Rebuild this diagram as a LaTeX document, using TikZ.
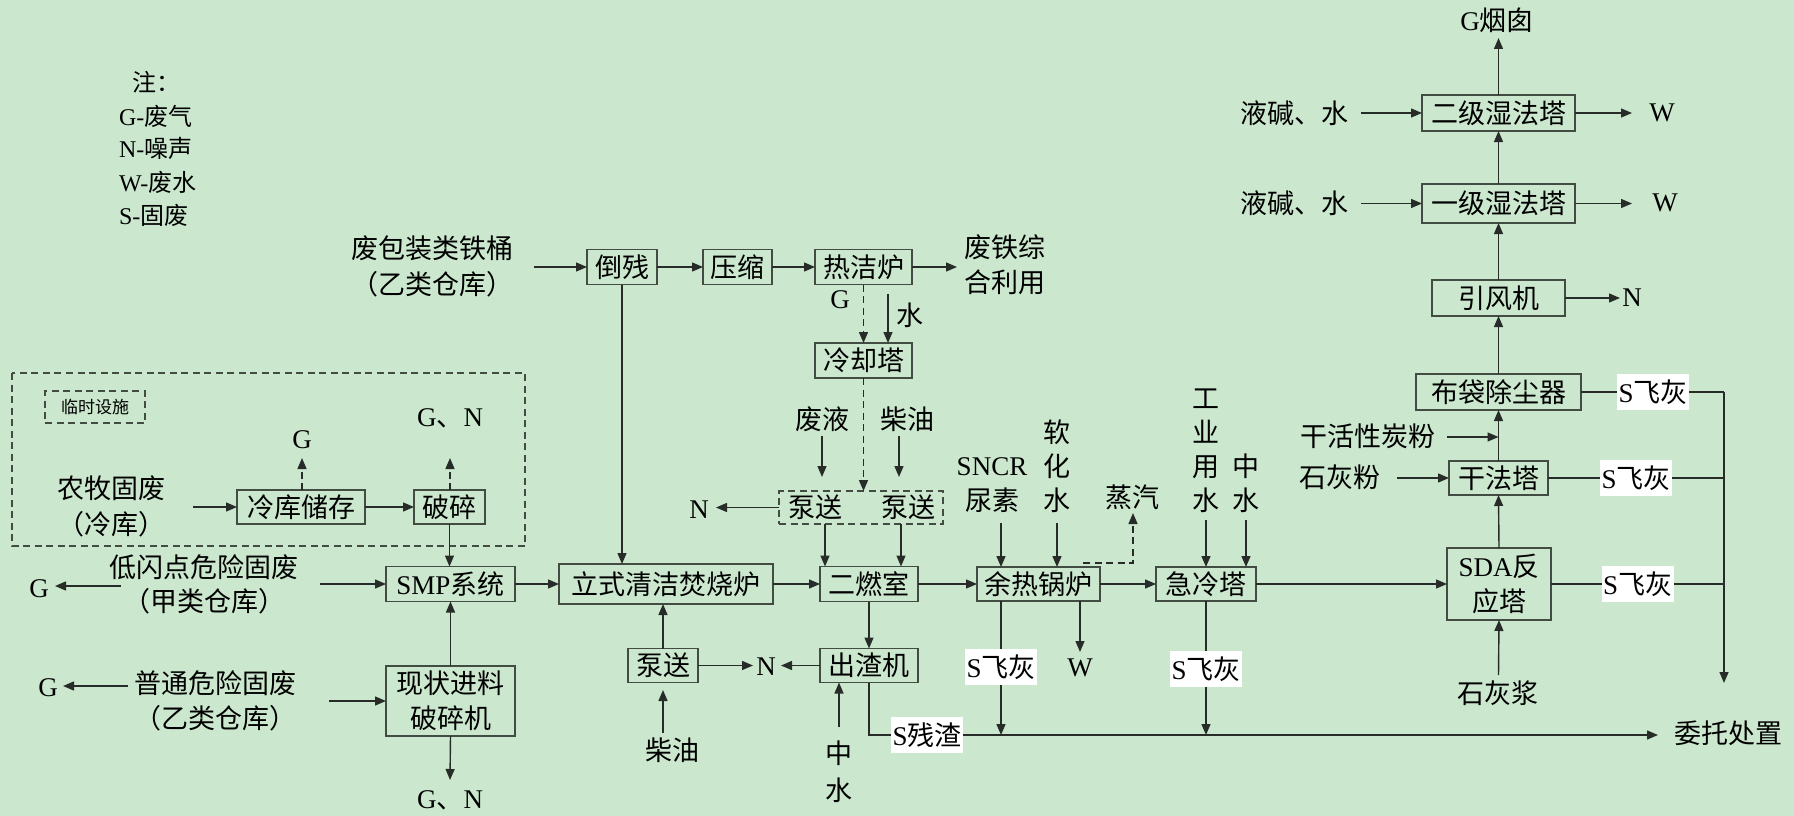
\documentclass[tikz,border=0pt]{standalone}
\usepackage{fontspec}
\setmainfont{Noto Sans CJK SC}
\newfontfamily\tnr{Liberation Serif}
\usetikzlibrary{arrows.meta}
\newcommand\La[1]{{\tnr #1}}
\definecolor{bgc}{RGB}{203,232,206}
\definecolor{bxc}{RGB}{66,76,66}
\definecolor{lnc}{RGB}{40,44,40}
\begin{document}
\begin{tikzpicture}[x=1pt,y=-1pt,
  every node/.style={inner sep=0pt, outer sep=0pt, font=\fontsize{27}{36}\selectfont},
  box/.style={draw=bxc, line width=1.4pt, minimum height=35pt},
  wl/.style={fill=white, minimum width=72pt, minimum height=36pt},
  vt/.style={align=center, font=\fontsize{27}{34}\selectfont},
  arr/.style={draw=lnc, line width=1.4pt, -{Triangle[length=11pt,width=9pt]}},
  plain/.style={draw=lnc, line width=1.4pt},
  dsh/.style={dash pattern=on 7pt off 4.5pt},
  leg/.style={anchor=west, font=\fontsize{24}{28}\selectfont},
]
\fill[bgc] (0,0) rectangle (1794,816);
\useasboundingbox (0,0) rectangle (1794,816);

% legend
\node[leg] (l0) at (132,82) {注：};
\node[leg] (l1) at (119,116) {\La{G-}废气};
\node[leg] (l2) at (119,148) {\La{N-}噪声};
\node[leg] (l3) at (119,182) {\La{W-}废水};
\node[leg] (l4) at (119,215) {\La{S-}固废};

% temporary facility frame
\draw[draw=bxc, line width=1.3pt, dsh] (12,373) rectangle (525,546);
\node[draw=bxc, line width=1.2pt, dsh, minimum width=100pt, minimum height=32pt, font=\fontsize{17}{20}\selectfont] (lsss) at (95,407) {临时设施};

% boxes
\node[box, minimum width=70pt] (dao) at (622,267) {倒残};
\node[box, minimum width=69pt] (ya) at (737.5,267) {压缩};
\node[box, minimum width=97pt] (rj) at (863.5,267) {热洁炉};
\node[box, minimum width=97pt] (lq) at (863.5,360.5) {冷却塔};
\node[draw=bxc, line width=1.3pt, dsh, minimum width=164pt, minimum height=33pt] (pump) at (861,507.5) {};
\node (p1) at (815,507) {泵送};
\node (p2) at (908,507) {泵送};
\node[box, minimum width=214pt, minimum height=40pt] (ls) at (666,584) {立式清洁焚烧炉};
\node[box, minimum width=98pt] (ec) at (869,584) {二燃室};
\node[box, minimum width=123pt, minimum height=34pt] (yr) at (1038.5,584) {余热锅炉};
\node[box, minimum width=100pt, minimum height=34pt] (jl) at (1206,584) {急冷塔};
\node[box, minimum width=104pt, minimum height=72pt, align=center, font=\fontsize{27}{35}\selectfont] (sda) at (1499,584) {\La{SDA}反\\应塔};
\node[box, minimum width=99pt, minimum height=34pt] (gf) at (1498.5,478) {干法塔};
\node[box, minimum width=165pt, minimum height=36pt] (bd) at (1498.5,392) {布袋除尘器};
\node[box, minimum width=133pt, minimum height=36pt] (yf) at (1498.5,298) {引风机};
\node[box, minimum width=153pt, minimum height=39pt] (s1) at (1498.5,203.5) {一级湿法塔};
\node[box, minimum width=153pt, minimum height=36pt] (s2) at (1498.5,113) {二级湿法塔};
\node[box, minimum width=129pt] (smp) at (450.5,584) {\La{SMP}系统};
\node[box, minimum width=129pt, minimum height=70pt, align=center, font=\fontsize{27}{35}\selectfont] (xz) at (450.5,701) {现状进料\\破碎机};
\node[box, minimum width=128pt, minimum height=34pt] (lk) at (301,507) {冷库储存};
\node[box, minimum width=71pt, minimum height=34pt] (ps) at (449.5,507) {破碎};
\node[box, minimum width=70pt, minimum height=34pt] (pb) at (663,665.5) {泵送};
\node[box, minimum width=98pt, minimum height=34pt] (cz) at (869,665.5) {出渣机};

% texts
\node[align=center] (fb) at (432,266) {废包装类铁桶\\（乙类仓库）};
\node[align=center] (nm) at (111,506) {农牧固废\\（冷库）};
\node[align=center, font=\fontsize{27}{34}\selectfont] (dsd) at (204,584) {低闪点危险固废\\（甲类仓库）};
\node[align=center, font=\fontsize{27}{35}\selectfont] (pt) at (215,700.5) {普通危险固废\\（乙类仓库）};
\node[align=left, font=\fontsize{27}{35}\selectfont] (ft) at (1005,264.5) {废铁综\\合利用};
\node (fy) at (822,419) {废液};
\node (cy1) at (907,419) {柴油};
\node[align=center, font=\fontsize{27}{35}\selectfont] (sncr) at (992,485.5) {\La{SNCR}\\尿素};
\node[vt] (rhs) at (1057,466) {软\\化\\水};
\node (zq) at (1132,497) {蒸汽};
\node[vt] (gysw) at (1206,451) {工\\业\\用\\水};
\node[vt] (zs1) at (1246,483.5) {中\\水};
\node[vt, font=\fontsize{27}{37}\selectfont] (zs2) at (839,771.5) {中\\水};
\node (cy2) at (672,750) {柴油};
\node (shj) at (1498,693) {石灰浆};
\node (shf) at (1340,477) {石灰粉};
\node (ght) at (1368,436) {干活性炭粉};
\node (yj2) at (1294,113) {液碱、水};
\node (yj1) at (1294,203) {液碱、水};
\node (w2) at (1662,113) {\La{W}};
\node (w1) at (1665,203) {\La{W}};
\node (n3) at (1632,298) {\La{N}};
\node (n1) at (699,510) {\La{N}};
\node (n2) at (766,667) {\La{N}};
\node (w3) at (1080,668) {\La{W}};
\node (g4) at (840,300) {\La{G}};
\node (shui) at (910,315) {水};
\node (g1) at (302,440) {\La{G}};
\node (gn1) at (450,418) {\La{G}、\La{N}};
\node (gn2) at (450,800) {\La{G}、\La{N}};
\node (g2) at (39,589) {\La{G}};
\node (g3) at (48,688) {\La{G}};
\node (gyc) at (1497,20) {\La{G}烟囱};
\node (wt) at (1728,733) {委托处置};
\node[wl] (sf1) at (1001,667) {\La{S}飞灰};
\node[wl] (sf2) at (1206,669) {\La{S}飞灰};
\node[wl] (sf3) at (1653,392) {\La{S}飞灰};
\node[wl] (sf4) at (1636,478) {\La{S}飞灰};
\node[wl] (sf5) at (1637.5,584) {\La{S}飞灰};
\node[wl] (scz) at (927,735) {\La{S}残渣};

% coordinates for free ends
\coordinate (k1) at (193,507);
\coordinate (k2) at (302,458);
\coordinate (k3) at (450,458);
\coordinate (k4) at (320,584);
\coordinate (k5) at (121,586);
\coordinate (k6) at (55,586);
\coordinate (k7) at (128,686);
\coordinate (k8) at (63,686);
\coordinate (k9) at (329,701);
\coordinate (k10) at (450,780);
\coordinate (k11) at (534,267);
\coordinate (k12) at (957,267);
\coordinate (k13) at (888,294);
\coordinate (k14) at (822,436);
\coordinate (k15) at (822,477);
\coordinate (k16) at (899,436);
\coordinate (k17) at (899,477);
\coordinate (k18) at (825,523);
\coordinate (k19) at (901,523);
\coordinate (k20) at (716,507.5);
\coordinate (k21) at (1498.5,38);
\coordinate (k22) at (1361,113);
\coordinate (k23) at (1361,203.5);
\coordinate (k24) at (1632,113);
\coordinate (k25) at (1632,203.5);
\coordinate (k26) at (1620,298);
\coordinate (k27) at (1447,437);
\coordinate (k28) at (1397,478);
\coordinate (k29) at (1498.5,675);
\coordinate (k30) at (1724,392);
\coordinate (k31) at (1724,683);
\coordinate (k32) at (781,665.5);
\coordinate (k33) at (753,665.5);
\coordinate (k34) at (663,733);
\coordinate (k35) at (663,690);
\coordinate (k36) at (839,727);
\coordinate (k37) at (1658,735);
\coordinate (k38) at (1080,652);
\coordinate (k39) at (1001,523);
\coordinate (k40) at (1057,523);
\coordinate (k41) at (1083,563);
\coordinate (k42) at (1133,513);
\coordinate (k43) at (1206,520);
\coordinate (k44) at (1246,520);

% left part
\draw[arr] (k1) -- (lk.west);
\draw[arr] (lk) -- (ps);
\draw[arr,dsh] (lk.north -| k2) -- (k2);
\draw[arr,dsh] (ps.north -| k3) -- (k3);
\draw[arr] (ps.south) -- (ps.south |- smp.north);
\draw[arr] (k4) -- (smp.west);
\draw[arr] (k5) -- (k6);
\draw[arr] (k7) -- (k8);
\draw[arr] (k9) -- (xz.west);
\draw[arr] (xz.north) -- (smp.south);
\draw[arr] (xz.south) -- (k10);

% upper branch
\draw[arr] (k11) -- (dao.west);
\draw[arr] (dao) -- (ya);
\draw[arr] (ya) -- (rj);
\draw[arr] (rj) -- (k12);
\draw[arr] (dao.south) -- (dao.south |- ls.north);
\draw[arr,dsh] (rj.south) -- (lq.north);
\draw[arr] (k13) -- (k13 |- lq.north);
\draw[arr,dsh] (lq.south) -- (lq.south |- pump.north);
\draw[arr] (k14) -- (k15);
\draw[arr] (k16) -- (k17);
\draw[arr] (pump.south -| k18) -- (k18 |- ec.north);
\draw[arr] (pump.south -| k19) -- (k19 |- ec.north);
\draw[arr] (pump.west) -- (k20);

% main line
\draw[arr] (smp.east) -- (smp.east -| ls.west);
\draw[arr] (ls.east) -- (ls.east -| ec.west);
\draw[arr] (ec.east) -- (ec.east -| yr.west);
\draw[arr] (yr.east) -- (yr.east -| jl.west);
\draw[arr] (jl.east) -- (jl.east -| sda.west);

% right column
\draw[arr] (sda.north) -- (gf.south);
\draw[arr] (gf.north) -- (bd.south);
\draw[arr] (bd.north) -- (yf.south);
\draw[arr] (yf.north) -- (s1.south);
\draw[arr] (s1.north) -- (s2.south);
\draw[arr] (s2.north) -- (k21);
\draw[arr] (k22) -- (s2.west);
\draw[arr] (k23) -- (s1.west);
\draw[arr] (s2.east) -- (k24);
\draw[arr] (s1.east) -- (k25);
\draw[arr] (yf.east) -- (k26);
\draw[arr] (k27) -- (k27 -| gf.north);
\draw[arr] (k28) -- (gf.west);
\draw[arr] (k29) -- (sda.south);

% fly ash collection
\draw[plain] (bd.east) -- (sf3.west);
\draw[plain] (sf3.east) -- (k30);
\draw[plain] (gf.east) -- (sf4.west);
\draw[plain] (sf4.east) -- (sf4.east -| k30);
\draw[plain] (sda.east) -- (sf5.west);
\draw[plain] (sf5.east) -- (sf5.east -| k30);
\draw[arr] (k30) -- (k31);

% lower part
\draw[arr] (ec.south) -- (cz.north);
\draw[arr] (cz.west) -- (k32);
\draw[arr] (pb.east) -- (k33);
\draw[arr] (pb.north) -- (pb.north |- ls.south);
\draw[arr] (k34) -- (k35);
\draw[arr] (k36) -- (k36 |- cz.south);
\draw[plain] (cz.south) |- (scz.west);
\draw[arr] (scz.east) -- (k37);
\draw[plain] (yr.south -| sf1) -- (sf1.north);
\draw[arr] (sf1.south) -- (sf1.south |- scz);
\draw[arr] (yr.south -| k38) -- (k38);
\draw[plain] (jl.south) -- (sf2.north);
\draw[arr] (sf2.south) -- (sf2.south |- scz);
\draw[arr] (k39) -- (k39 |- yr.north);
\draw[arr] (k40) -- (k40 |- yr.north);
\draw[arr,dsh] (k41) -| (k42);
\draw[arr] (k43) -- (k43 |- jl.north);
\draw[arr] (k44) -- (k44 |- jl.north);
\end{tikzpicture}
\end{document}
